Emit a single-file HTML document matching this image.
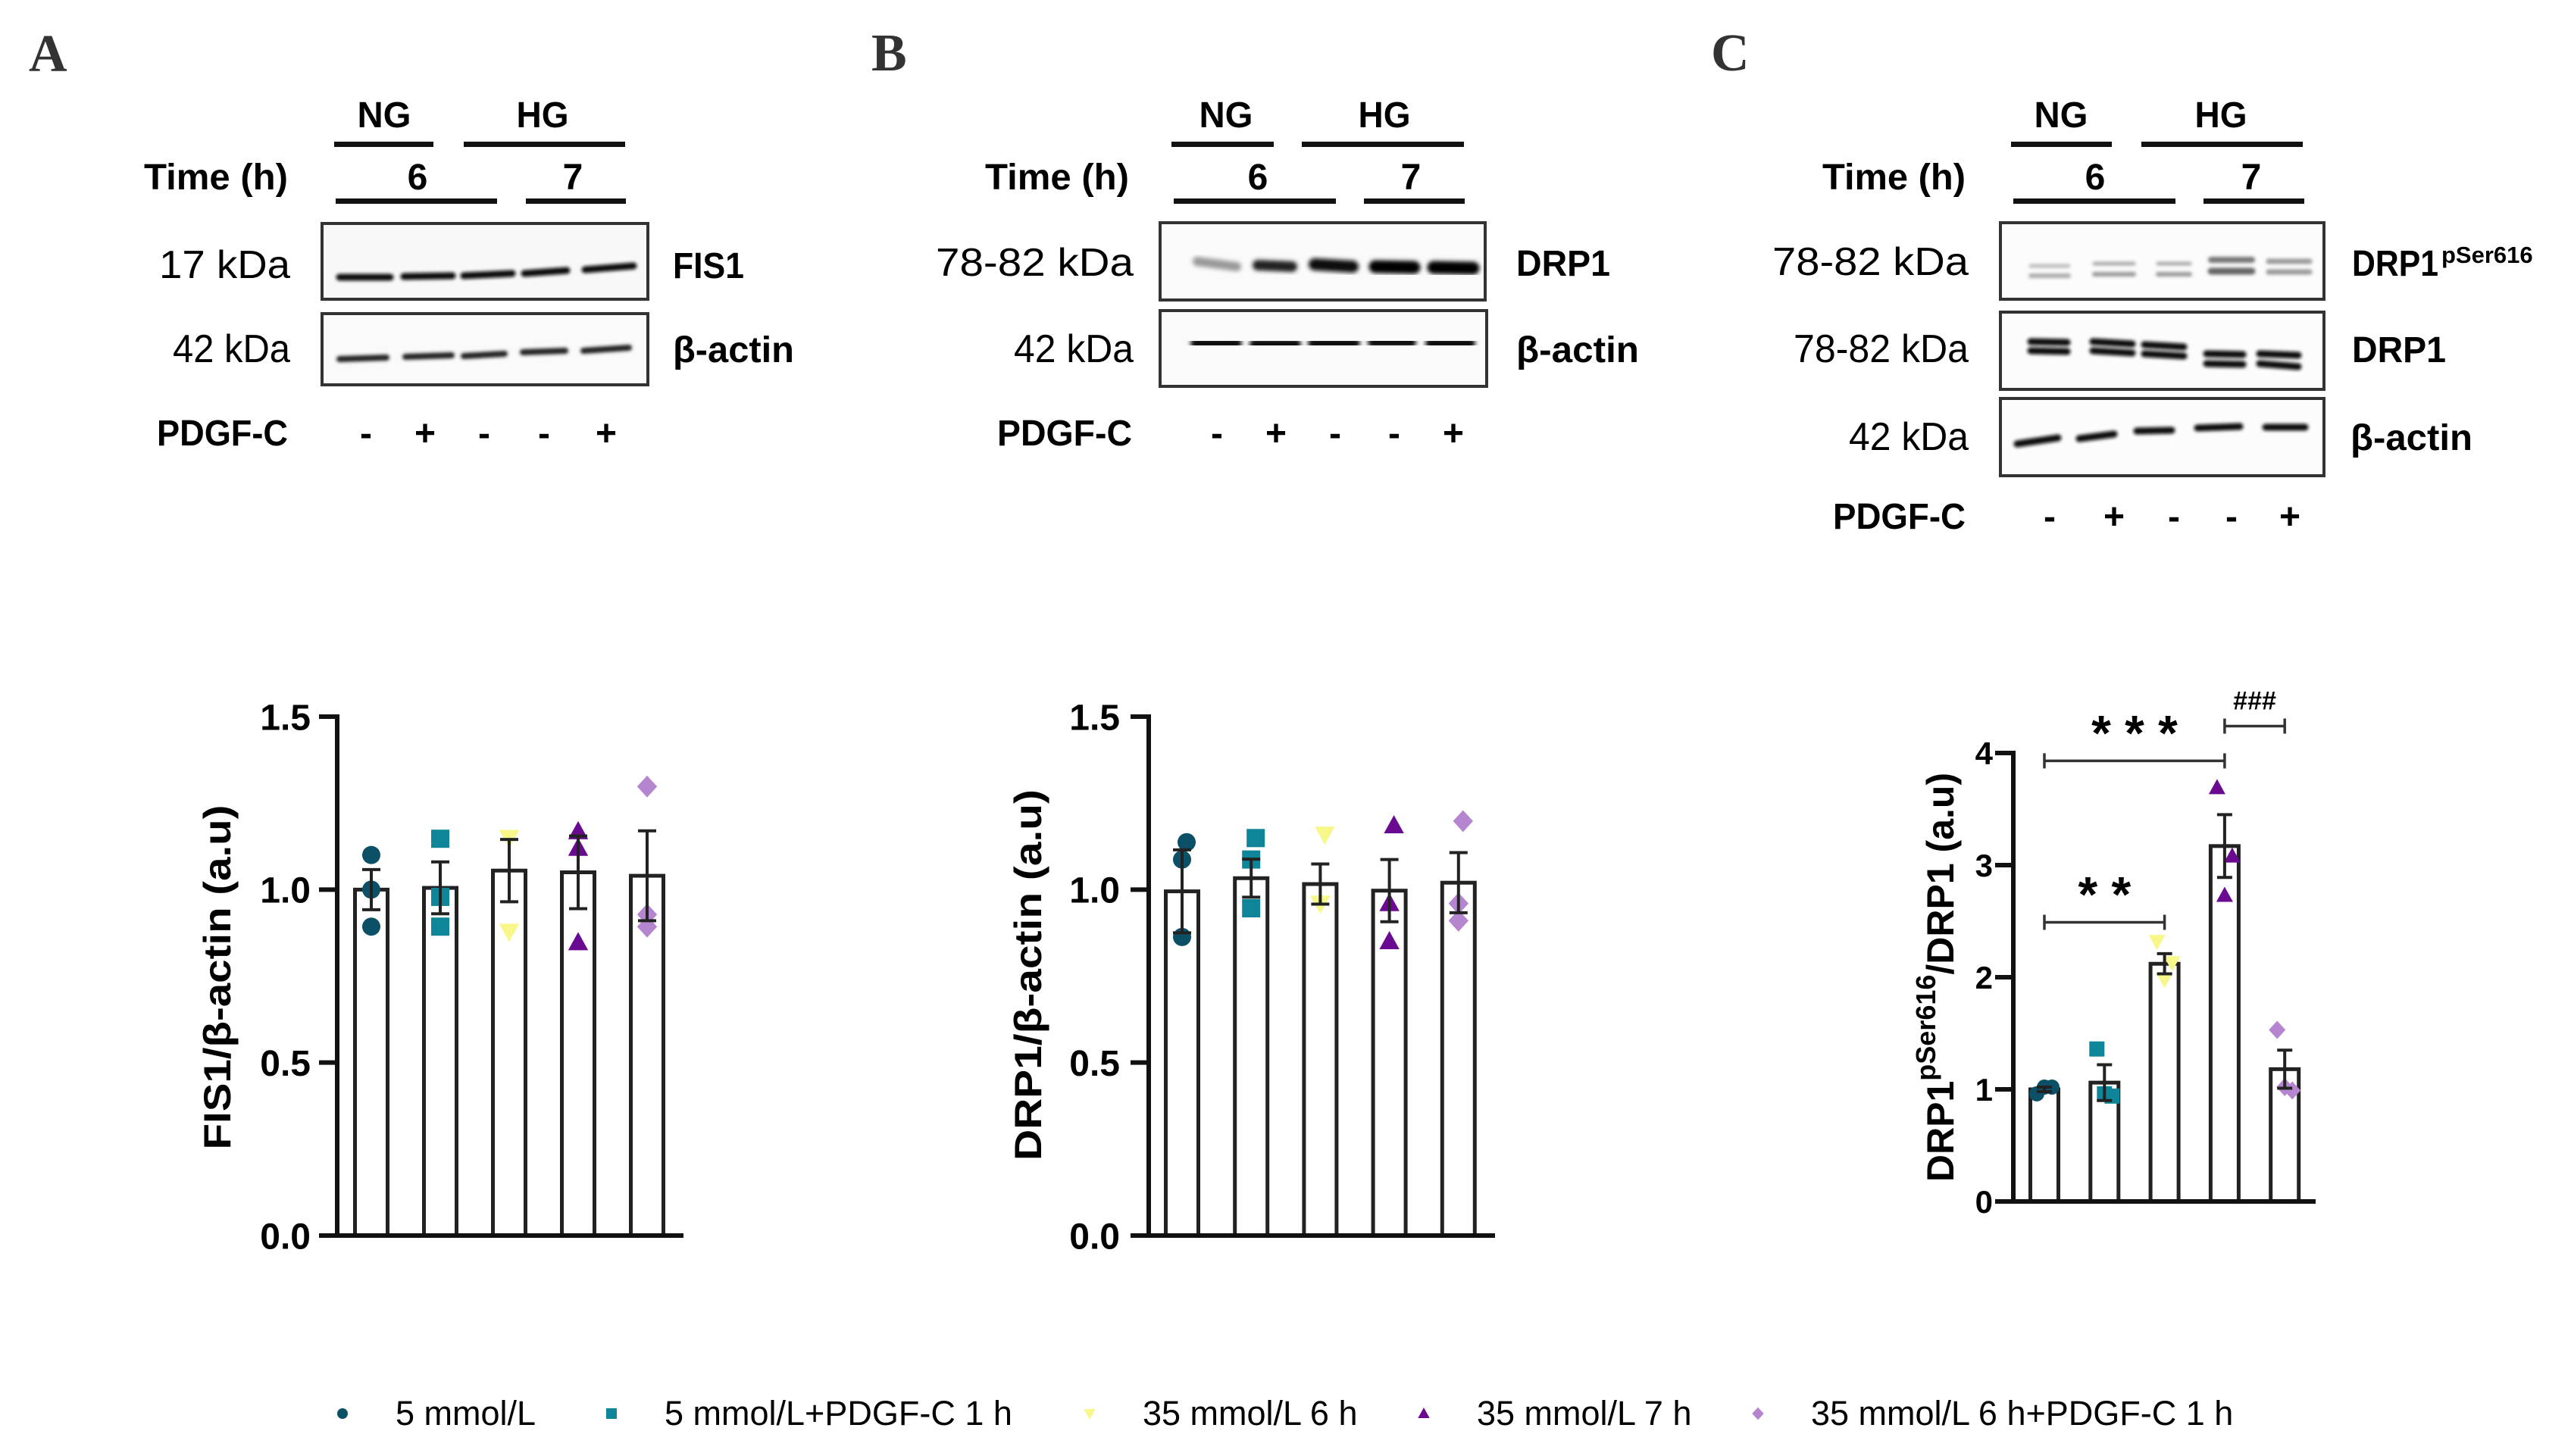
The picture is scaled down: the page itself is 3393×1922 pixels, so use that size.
<!DOCTYPE html>
<html><head><meta charset="utf-8"><style>
html,body{margin:0;padding:0;background:#fff;}
svg{display:block;}
.t{font-family:"Liberation Sans",sans-serif;}
.b{font-family:"Liberation Sans",sans-serif;font-weight:bold;}
</style></head>
<body>
<svg id="fig" xmlns="http://www.w3.org/2000/svg" width="3393" height="1922" viewBox="0 0 3393 1922">
<defs>
<filter id="blur" x="-20%" y="-100%" width="140%" height="300%"><feGaussianBlur stdDeviation="3"/></filter>
<filter id="blur2" x="-20%" y="-100%" width="140%" height="300%"><feGaussianBlur stdDeviation="2"/></filter>
</defs>
<rect width="3393" height="1922" fill="#fff"/>

<text x="38" y="94" font-family="Liberation Serif,serif" font-weight="bold" font-size="70" fill="#333">A</text>
<text x="1150" y="93" font-family="Liberation Serif,serif" font-weight="bold" font-size="70" fill="#333">B</text>
<text x="2258" y="93" font-family="Liberation Serif,serif" font-weight="bold" font-size="70" fill="#333">C</text>

<!-- ===== Blot A ===== -->
<g>
  <text class="b" x="507" y="168" font-size="48" text-anchor="middle" textLength="71" lengthAdjust="spacingAndGlyphs">NG</text>
  <text class="b" x="716" y="168" font-size="48" text-anchor="middle" textLength="69" lengthAdjust="spacingAndGlyphs">HG</text>
  <rect x="441" y="187" width="131" height="7" fill="#111"/>
  <rect x="612" y="187" width="213" height="7" fill="#111"/>
  <text class="b" x="190" y="250" font-size="48" textLength="190" lengthAdjust="spacingAndGlyphs">Time (h)</text>
  <text class="b" x="551" y="250" font-size="48" text-anchor="middle">6</text>
  <text class="b" x="756" y="250" font-size="48" text-anchor="middle">7</text>
  <rect x="443" y="262" width="213" height="7" fill="#111"/>
  <rect x="694" y="262" width="132" height="7" fill="#111"/>
  <rect x="425" y="295" width="430" height="100" fill="#f8f8f8" stroke="#333" stroke-width="4"/>
  <g filter="url(#blur2)" stroke="#111" stroke-width="9" stroke-linecap="round">
    <line x1="448" y1="366" x2="515" y2="366"/><line x1="533" y1="365" x2="597" y2="364"/><line x1="612" y1="364" x2="676" y2="361"/><line x1="692" y1="361" x2="748" y2="357"/><line x1="772" y1="356" x2="836" y2="351"/>
  </g>
  <rect x="425" y="414" width="430" height="94" fill="#fafafa" stroke="#333" stroke-width="4"/>
  <g filter="url(#blur2)" stroke="#222" stroke-width="8" stroke-linecap="round">
    <line x1="448" y1="474" x2="510" y2="472"/><line x1="535" y1="471" x2="596" y2="469"/><line x1="612" y1="470" x2="666" y2="467"/><line x1="690" y1="465" x2="746" y2="463"/><line x1="770" y1="463" x2="830" y2="459"/>
  </g>
  <text class="t" x="383" y="367" font-size="52" text-anchor="end" textLength="173" lengthAdjust="spacingAndGlyphs">17 kDa</text>
  <text class="t" x="383" y="478" font-size="52" text-anchor="end" textLength="155" lengthAdjust="spacingAndGlyphs">42 kDa</text>
  <text class="b" x="888" y="367" font-size="48" textLength="94" lengthAdjust="spacingAndGlyphs">FIS1</text>
  <text class="b" x="888" y="478" font-size="48" textLength="160" lengthAdjust="spacingAndGlyphs">β-actin</text>
  <text class="b" x="207" y="588" font-size="48" textLength="173" lengthAdjust="spacingAndGlyphs">PDGF-C</text>
  <g class="b" font-size="48" text-anchor="middle">
    <text x="483" y="588">-</text><text x="561" y="588">+</text><text x="639" y="588">-</text><text x="718" y="588">-</text><text x="800" y="588">+</text>
  </g>
</g>

<!-- ===== Blot B ===== -->
<g>
  <text class="b" x="1618" y="168" font-size="48" text-anchor="middle" textLength="71" lengthAdjust="spacingAndGlyphs">NG</text>
  <text class="b" x="1827" y="168" font-size="48" text-anchor="middle" textLength="69" lengthAdjust="spacingAndGlyphs">HG</text>
  <rect x="1546" y="187" width="135" height="7" fill="#111"/>
  <rect x="1718" y="187" width="214" height="7" fill="#111"/>
  <text class="b" x="1300" y="250" font-size="48" textLength="190" lengthAdjust="spacingAndGlyphs">Time (h)</text>
  <text class="b" x="1660" y="250" font-size="48" text-anchor="middle">6</text>
  <text class="b" x="1862" y="250" font-size="48" text-anchor="middle">7</text>
  <rect x="1549" y="262" width="214" height="7" fill="#111"/>
  <rect x="1800" y="262" width="133" height="7" fill="#111"/>
  <rect x="1531" y="294" width="429" height="102" fill="#fafafa" stroke="#333" stroke-width="4"/>
  <g filter="url(#blur)" stroke-linecap="round">
    <line x1="1580" y1="345" x2="1632" y2="352" stroke="#999" stroke-width="12"/>
    <line x1="1660" y1="350" x2="1705" y2="352" stroke="#222" stroke-width="14"/>
    <line x1="1735" y1="349" x2="1785" y2="352" stroke="#111" stroke-width="16"/>
    <line x1="1815" y1="352" x2="1866" y2="353" stroke="#000" stroke-width="17"/>
    <line x1="1892" y1="353" x2="1944" y2="354" stroke="#000" stroke-width="17"/>
  </g>
  <rect x="1531" y="410" width="431" height="100" fill="#fafafa" stroke="#333" stroke-width="4"/>
  <g filter="url(#blur)" stroke="#111" stroke-width="14" stroke-linecap="round">
    <line x1="1578" y1="453" x2="1632" y2="453"/><line x1="1656" y1="454" x2="1710" y2="454"/><line x1="1733" y1="453" x2="1788" y2="453"/><line x1="1812" y1="452" x2="1862" y2="452"/><line x1="1888" y1="453" x2="1940" y2="453"/>
  </g>
  <text class="t" x="1496" y="364" font-size="52" text-anchor="end" textLength="261" lengthAdjust="spacingAndGlyphs">78-82 kDa</text>
  <text class="t" x="1496" y="478" font-size="52" text-anchor="end" textLength="158" lengthAdjust="spacingAndGlyphs">42 kDa</text>
  <text class="b" x="2001" y="364" font-size="48" textLength="124" lengthAdjust="spacingAndGlyphs">DRP1</text>
  <text class="b" x="2001" y="478" font-size="48" textLength="162" lengthAdjust="spacingAndGlyphs">β-actin</text>
  <text class="b" x="1316" y="588" font-size="48" textLength="178" lengthAdjust="spacingAndGlyphs">PDGF-C</text>
  <g class="b" font-size="48" text-anchor="middle">
    <text x="1606" y="588">-</text><text x="1684" y="588">+</text><text x="1762" y="588">-</text><text x="1840" y="588">-</text><text x="1918" y="588">+</text>
  </g>
</g>

<!-- ===== Blot C ===== -->
<g>
  <text class="b" x="2720" y="168" font-size="48" text-anchor="middle" textLength="71" lengthAdjust="spacingAndGlyphs">NG</text>
  <text class="b" x="2931" y="168" font-size="48" text-anchor="middle" textLength="69" lengthAdjust="spacingAndGlyphs">HG</text>
  <rect x="2654" y="187" width="133" height="7" fill="#111"/>
  <rect x="2826" y="187" width="213" height="7" fill="#111"/>
  <text class="b" x="2405" y="250" font-size="48" textLength="189" lengthAdjust="spacingAndGlyphs">Time (h)</text>
  <text class="b" x="2765" y="250" font-size="48" text-anchor="middle">6</text>
  <text class="b" x="2971" y="250" font-size="48" text-anchor="middle">7</text>
  <rect x="2657" y="262" width="214" height="7" fill="#111"/>
  <rect x="2908" y="262" width="133" height="7" fill="#111"/>
  <rect x="2640" y="294" width="427" height="101" fill="#fcfcfc" stroke="#333" stroke-width="4"/>
  <g filter="url(#blur2)" stroke-linecap="round">
    <line x1="2680" y1="351" x2="2730" y2="351" stroke="#bbb" stroke-width="5"/><line x1="2680" y1="364" x2="2730" y2="364" stroke="#aaa" stroke-width="6"/>
    <line x1="2764" y1="348" x2="2816" y2="348" stroke="#aaa" stroke-width="5"/><line x1="2764" y1="362" x2="2816" y2="362" stroke="#999" stroke-width="6"/>
    <line x1="2848" y1="348" x2="2890" y2="348" stroke="#aaa" stroke-width="5"/><line x1="2848" y1="362" x2="2890" y2="362" stroke="#999" stroke-width="6"/>
    <line x1="2918" y1="343" x2="2972" y2="343" stroke="#777" stroke-width="8"/><line x1="2918" y1="358" x2="2972" y2="358" stroke="#666" stroke-width="9"/>
    <line x1="2994" y1="345" x2="3048" y2="345" stroke="#999" stroke-width="7"/><line x1="2994" y1="359" x2="3048" y2="359" stroke="#999" stroke-width="7"/>
  </g>
  <rect x="2640" y="412" width="427" height="102" fill="#fcfcfc" stroke="#333" stroke-width="4"/>
  <g filter="url(#blur2)" stroke="#111" stroke-width="9" stroke-linecap="round">
    <line x1="2680" y1="451" x2="2728" y2="452"/><line x1="2680" y1="463" x2="2728" y2="464"/>
    <line x1="2762" y1="451" x2="2814" y2="454"/><line x1="2762" y1="463" x2="2814" y2="466"/>
    <line x1="2830" y1="455" x2="2882" y2="458"/><line x1="2830" y1="467" x2="2882" y2="470"/>
    <line x1="2912" y1="467" x2="2960" y2="468"/><line x1="2912" y1="480" x2="2960" y2="481"/>
    <line x1="2982" y1="467" x2="3033" y2="469"/><line x1="2982" y1="480" x2="3033" y2="484"/>
  </g>
  <rect x="2640" y="526" width="427" height="102" fill="#fcfcfc" stroke="#333" stroke-width="4"/>
  <g filter="url(#blur2)" stroke="#111" stroke-width="9" stroke-linecap="round">
    <line x1="2662" y1="586" x2="2716" y2="578"/><line x1="2744" y1="579" x2="2790" y2="573"/><line x1="2820" y1="569" x2="2866" y2="568"/><line x1="2900" y1="565" x2="2956" y2="563"/><line x1="2990" y1="564" x2="3042" y2="564"/>
  </g>
  <text class="t" x="2598" y="363" font-size="52" text-anchor="end" textLength="259" lengthAdjust="spacingAndGlyphs">78-82 kDa</text>
  <text class="t" x="2598" y="478" font-size="52" text-anchor="end" textLength="231" lengthAdjust="spacingAndGlyphs">78-82 kDa</text>
  <text class="t" x="2598" y="594" font-size="52" text-anchor="end" textLength="158" lengthAdjust="spacingAndGlyphs">42 kDa</text>
  <text class="b" x="3104" y="364" font-size="48"><tspan textLength="114" lengthAdjust="spacingAndGlyphs">DRP1</tspan><tspan font-size="31" dy="-17" dx="4">pSer616</tspan></text>
  <text class="b" x="3104" y="478" font-size="48" textLength="124" lengthAdjust="spacingAndGlyphs">DRP1</text>
  <text class="b" x="3102" y="594" font-size="48" textLength="161" lengthAdjust="spacingAndGlyphs">β-actin</text>
  <text class="b" x="2419" y="698" font-size="48" textLength="175" lengthAdjust="spacingAndGlyphs">PDGF-C</text>
  <g class="b" font-size="48" text-anchor="middle">
    <text x="2705" y="698">-</text><text x="2790" y="698">+</text><text x="2869" y="698">-</text><text x="2945" y="698">-</text><text x="3022" y="698">+</text>
  </g>
</g>

<text class="b" transform="translate(304,1290) rotate(-90)" font-size="50" text-anchor="middle" textLength="455" lengthAdjust="spacingAndGlyphs">FIS1/β-actin (a.u)</text>
<text class="b" transform="translate(1374,1287) rotate(-90)" font-size="50" text-anchor="middle" textLength="490" lengthAdjust="spacingAndGlyphs">DRP1/β-actin (a.u)</text>
<text class="b" transform="translate(2578,1290) rotate(-90)" font-size="50" text-anchor="middle">DRP1<tspan font-size="36" dy="-24">pSer616</tspan><tspan dy="24">/DRP1 (a.u)</tspan></text>

<g id="charts"></g>
<g id="legend"></g>
</svg>

<script>
var categories = ['5 mmol/L', '5 mmol/L+PDGF-C 1 h', '35 mmol/L 6 h', '35 mmol/L 7 h', '35 mmol/L 6 h+PDGF-C 1 h'];
var markerTypes = ['circle', 'square', 'down', 'up', 'diamond'];
var markerColors = ['#0b5066', '#0f8599', '#f7f78a', '#6a0a90', '#b685cf'];

var fisMean = [1.0, 1.005, 1.055, 1.05, 1.04];
var fisSem = [0.058, 0.075, 0.09, 0.105, 0.13];
var fisPoints = [[1.10, 1.0, 0.893], [1.147, 0.979, 0.893], [1.15, 1.15, 0.879], [1.168, 1.12, 0.847], [1.298, 0.928, 0.893]];
var fisTicks = ['0.0', '0.5', '1.0', '1.5'];

var drpMean = [0.995, 1.033, 1.016, 0.997, 1.02];
var drpSem = [0.12, 0.055, 0.058, 0.09, 0.087];
var drpPoints = [[1.137, 1.087, 0.863], [1.149, 1.087, 0.946], [1.16, 0.96, 0.96], [1.185, 0.96, 0.85], [1.198, 0.96, 0.91]];
var drpTicks = ['0.0', '0.5', '1.0', '1.5'];

var pMean = [1.0, 1.06, 2.12, 3.17, 1.18];
var pSem = [0.02, 0.16, 0.09, 0.28, 0.17];
var pPoints = [[0.96, 1.02, 1.02], [1.36, 0.94, 0.96], [2.32, 2.13, 1.98], [3.69, 3.08, 2.73], [1.53, 0.99, 1.02]];
var pTicks = ['0', '1', '2', '3', '4'];

var sigFrom = [0, 0, 3];
var sigTo = [2, 3, 4];
var sigLevel = [2.49, 3.93, 4.24];
var sigLabels = ['* *', '* * *', '###'];

var NS = 'http://www.w3.org/2000/svg';
function mk(tag, attrs, parent) {
  var e = document.createElementNS(NS, tag);
  for (var k in attrs) e.setAttribute(k, attrs[k]);
  parent.appendChild(e);
  return e;
}

function drawMarker(parent, type, cx, cy, r, color) {
  var el;
  if (type === 'circle') el = mk('circle', {cx: cx, cy: cy, r: r, fill: color}, parent);
  else if (type === 'square') el = mk('rect', {x: cx - r, y: cy - r, width: 2 * r, height: 2 * r, fill: color}, parent);
  else if (type === 'up') el = mk('polygon', {points: cx + ',' + (cy - r * 1.15) + ' ' + (cx - r * 1.1) + ',' + (cy + r * 0.85) + ' ' + (cx + r * 1.1) + ',' + (cy + r * 0.85), fill: color}, parent);
  else if (type === 'down') el = mk('polygon', {points: cx + ',' + (cy + r * 1.15) + ' ' + (cx - r * 1.1) + ',' + (cy - r * 0.85) + ' ' + (cx + r * 1.1) + ',' + (cy - r * 0.85), fill: color}, parent);
  else el = mk('polygon', {points: cx + ',' + (cy - r * 1.2) + ' ' + (cx + r * 1.1) + ',' + cy + ' ' + cx + ',' + (cy + r * 1.2) + ' ' + (cx - r * 1.1) + ',' + cy, fill: color}, parent);
  return el;
}

function drawChart(cfg, means, sems, points, ticks) {
  var root = document.getElementById('charts');
  var g = mk('g', {}, root);
  
  
  var ymax = parseFloat(ticks[ticks.length - 1]);
  function yS(v) { return cfg.y0 - v / ymax * (cfg.y0 - cfg.yTop); }
  function xS(i) { return cfg.xFirst + i * cfg.step; }
  cfg.yS = yS; cfg.xS = xS;
  for (var i = 0; i < means.length; i++) {
    var bar = mk('rect', {x: xS(i) - cfg.bw / 2, y: yS(means[i]), width: cfg.bw, height: cfg.y0 - yS(means[i]), fill: '#fff', stroke: '#222', 'stroke-width': 5}, g);
    
    
  }
  for (var i = 0; i < points.length; i++) {
    for (var j = 0; j < points[i].length; j++) {
      var pt = drawMarker(g, markerTypes[i], xS(i) + cfg.jitter[j], yS(points[i][j]), cfg.mr, markerColors[i]);
      
      
    }
  }
  for (var i = 0; i < means.length; i++) {
    var eg = mk('g', {stroke: '#222', 'stroke-width': 4}, g);
    
    
    var x = xS(i), yt = yS(means[i] + sems[i]), yb = yS(means[i] - sems[i]);
    mk('line', {x1: x, y1: yt, x2: x, y2: yb}, eg);
    mk('line', {x1: x - cfg.cap, y1: yt, x2: x + cfg.cap, y2: yt}, eg);
    mk('line', {x1: x - cfg.cap, y1: yb, x2: x + cfg.cap, y2: yb}, eg);
  }
  var ax = mk('line', {x1: cfg.ax, y1: cfg.yTop - 3, x2: cfg.ax, y2: cfg.y0 + 3, stroke: '#111', 'stroke-width': 6}, g);
  
  
  var bx = mk('line', {x1: cfg.ax - cfg.tick, y1: cfg.y0, x2: cfg.xEnd, y2: cfg.y0, stroke: '#111', 'stroke-width': 6}, g);
  
  
  for (var k = 0; k < ticks.length; k++) {
    var v = parseFloat(ticks[k]);
    mk('line', {x1: cfg.ax - cfg.tick, y1: yS(v), x2: cfg.ax, y2: yS(v), stroke: '#111', 'stroke-width': 6}, g);
    var t = mk('text', {x: cfg.labelRight, y: yS(v) + cfg.fs * 0.36, 'font-size': cfg.fs, 'text-anchor': 'end', 'class': 'b'}, g);
    t.textContent = ticks[k];
    
    
  }
  return cfg;
}

var cA = drawChart({name: 'chart-fis1', ax: 445, y0: 1631, yTop: 946, xEnd: 902, xFirst: 490, step: 91, bw: 43, mr: 12, cap: 12, tick: 24, labelRight: 410, fs: 48, jitter: [0, 0, 0]}, fisMean, fisSem, fisPoints, fisTicks);
var cB = drawChart({name: 'chart-drp1', ax: 1516, y0: 1631, yTop: 946, xEnd: 1973, xFirst: 1560, step: 91.2, bw: 43, mr: 12, cap: 12, tick: 24, labelRight: 1478, fs: 48, jitter: [6, 0, 0]}, drpMean, drpSem, drpPoints, drpTicks);
var cC = drawChart({name: 'chart-pdrp1', ax: 2657, y0: 1586, yTop: 994, xEnd: 3056, xFirst: 2698, step: 79.3, bw: 37, mr: 10, cap: 10, tick: 24, labelRight: 2630, fs: 42, jitter: [-10, 10, 0]}, pMean, pSem, pPoints, pTicks);

(function () {
  var g = mk('g', {}, document.getElementById('charts'));
  
  
  for (var i = 0; i < sigFrom.length; i++) {
    var x1 = cC.xS(sigFrom[i]), x2 = cC.xS(sigTo[i]), y = cC.yS(sigLevel[i]);
    var bg = mk('g', {stroke: '#333', 'stroke-width': 3.5}, g);
    
    
    mk('line', {x1: x1, y1: y, x2: x2, y2: y}, bg);
    mk('line', {x1: x1, y1: y - 10, x2: x1, y2: y + 10}, bg);
    mk('line', {x1: x2, y1: y - 10, x2: x2, y2: y + 10}, bg);
    var isHash = sigLabels[i].indexOf('#') >= 0;
    var t = mk('text', {x: (x1 + x2) / 2, y: isHash ? y - 22 : y - 14, 'font-size': isHash ? 34 : 66, 'text-anchor': 'middle', 'class': 'b'}, g);
    t.textContent = sigLabels[i];
    
    
  }
})();

(function () {
  var lg = document.getElementById('legend');
  
  
  var mx = [452, 807, 1438, 1879, 2320];
  for (var i = 0; i < categories.length; i++) {
    var e = mk('g', {}, lg);
    
    
    drawMarker(e, markerTypes[i], mx[i], 1866, 7, markerColors[i]);
    var t = mk('text', {x: mx[i] + 70, y: 1881, 'font-size': 45, 'class': 't'}, e);
    t.textContent = categories[i];
  }
})();
</script>
</body></html>
